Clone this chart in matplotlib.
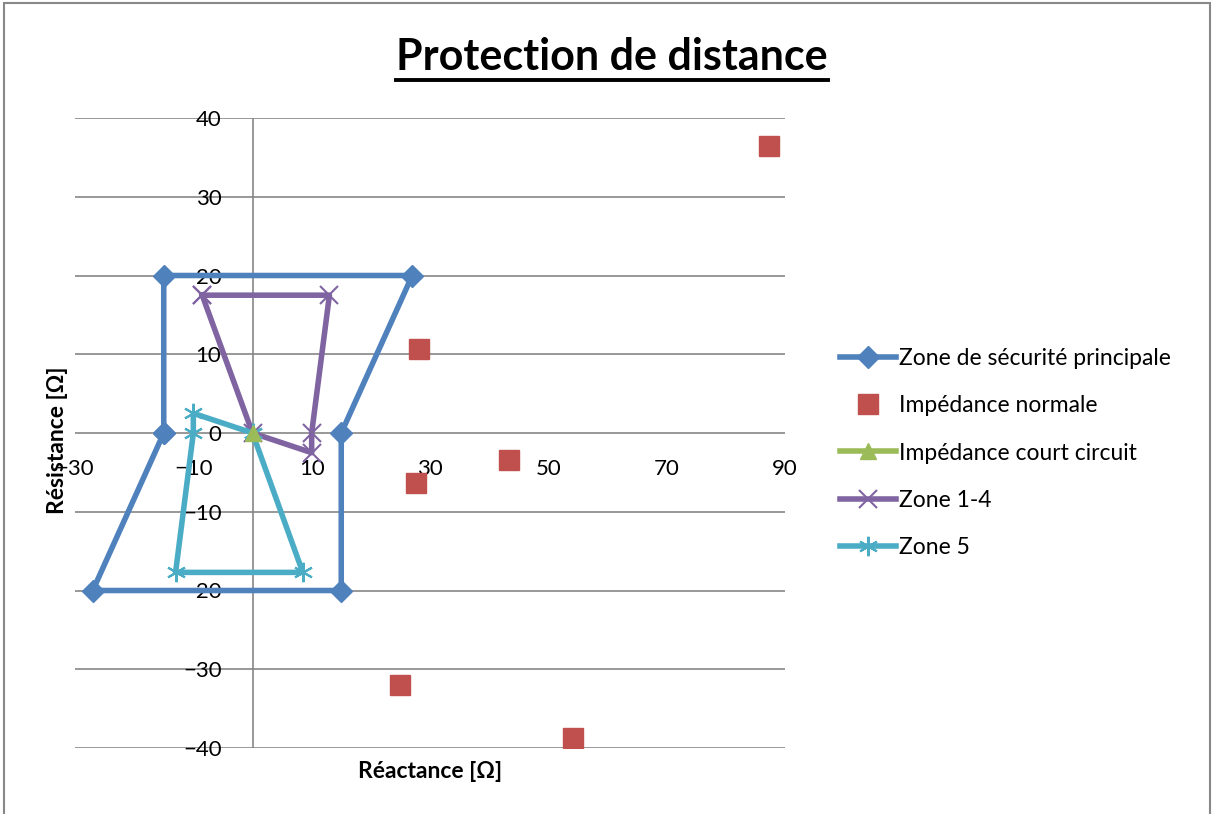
import matplotlib
matplotlib.use("Agg")
import matplotlib.pyplot as plt
from matplotlib.lines import Line2D
from matplotlib.patches import Rectangle

plt.rcParams['font.family'] = ['Lato', 'DejaVu Sans']

# zone de sécurité principale (polygone fermé)
zone_x = [-15, -15, 27, 15, 15, -27, -15]
zone_y = [0, 20, 20, 0, -20, -20, 0]

# impédances mesurées en régime normal
normal_x = [87.3, 28.1, 43.3, 27.6, 24.9, 54.2]
normal_y = [36.5, 10.7, -3.4, -6.3, -32.0, -38.7]

# impédance de court-circuit
cc_x = [0]
cc_y = [0]

# zones 1 à 4
z14_x = [-8.5, 0, 10, 10, 13, -8.5]
z14_y = [17.5, 0, -2.5, 0, 17.5, 17.5]

# zone 5
z5_x = [0, -10, -10, -13, 8.5, 0]
z5_y = [0, 2.5, 0, -17.7, -17.7, 0]

xticks = [-30, -10, 10, 30, 50, 70, 90]
yticks = [-40, -30, -20, -10, 0, 10, 20, 30, 40]

W, H = 1213, 814
fig = plt.figure(figsize=(W / 100, H / 100), dpi=100)
ax = fig.add_axes([75 / W, 1 - 748 / H, 710 / W, 630 / H])

grid_c = '#868686'
ax.set_xlim(-30, 90)
ax.set_ylim(-40, 40)
ax.set_yticks(yticks)
ax.set_xticks(xticks)
for y in yticks:
    ax.axhline(y, color=grid_c, lw=1.2, zorder=0)
ax.axvline(0, color=grid_c, lw=1.2, zorder=0)
for s in ax.spines.values():
    s.set_visible(False)
ax.tick_params(length=0, labelsize=16)
ax.tick_params(axis='x', pad=19)
ax.tick_params(axis='y', pad=22)
# étiquettes placées contre les axes centraux
for lab in ax.get_xticklabels():
    lab.set_transform(lab.get_transform() + matplotlib.transforms.ScaledTranslation(0, -(433 - 748) / 100, fig.dpi_scale_trans))
for lab in ax.get_yticklabels():
    lab.set_transform(lab.get_transform() + matplotlib.transforms.ScaledTranslation((252 - 75) / 100, 0, fig.dpi_scale_trans))

ax.plot(zone_x, zone_y, color='#4F81BD', lw=4, marker='D', ms=11,
        label='Zone de sécurité principale', zorder=3)
ax.plot(normal_x, normal_y, ls='none', color='#C0504D', marker='s', ms=14,
        label='Impédance normale', zorder=4)
ax.plot(cc_x, cc_y, color='#9BBB59', lw=4, marker='^', ms=12,
        label='Impédance court circuit', zorder=5)
ax.plot(z14_x, z14_y, color='#8064A2', lw=4, marker='x', ms=13, mew=1.5,
        label='Zone 1-4', zorder=4)
ax.plot(z5_x, z5_y, color='#4BACC6', lw=4, marker=(6, 2, 0), ms=14, mew=1.5,
        label='Zone 5', zorder=4)

ax.set_xlabel('Réactance [Ω]', fontsize=16.5, fontweight='bold')
ax.xaxis.set_label_coords((430 - 75) / 710, -(772 - 748) / 630)
ax.set_ylabel('Résistance [Ω]', fontsize=16.5, fontweight='bold')
ax.yaxis.set_label_coords(-(75 - 58) / 710, (748 - 440) / 630)
ax.xaxis.label.set_va('center')
ax.yaxis.label.set_va('center')

fig.legend(loc='center left', bbox_to_anchor=(819 / W, 1 - 453 / H), frameon=False,
           fontsize=16.5, handlelength=2.45, handletextpad=0.15, labelspacing=1.15)

title = fig.text(612 / W, 1 - 57 / H, 'Protection de distance', ha='center', va='center',
                 fontsize=31, fontweight='bold')
fig.canvas.draw()
bb = title.get_window_extent()
fig.add_artist(Line2D([bb.x0 / W, bb.x1 / W], [(bb.y0 - 3) / H, (bb.y0 - 3) / H],
                      color='black', lw=2.8))

fig.add_artist(Rectangle((4 / W, -0.01), (W - 7) / W, 1 - 3 / H + 0.01, fill=False,
                         edgecolor='#888888', lw=1.5, transform=fig.transFigure))

fig.savefig('out.png', dpi=100)
